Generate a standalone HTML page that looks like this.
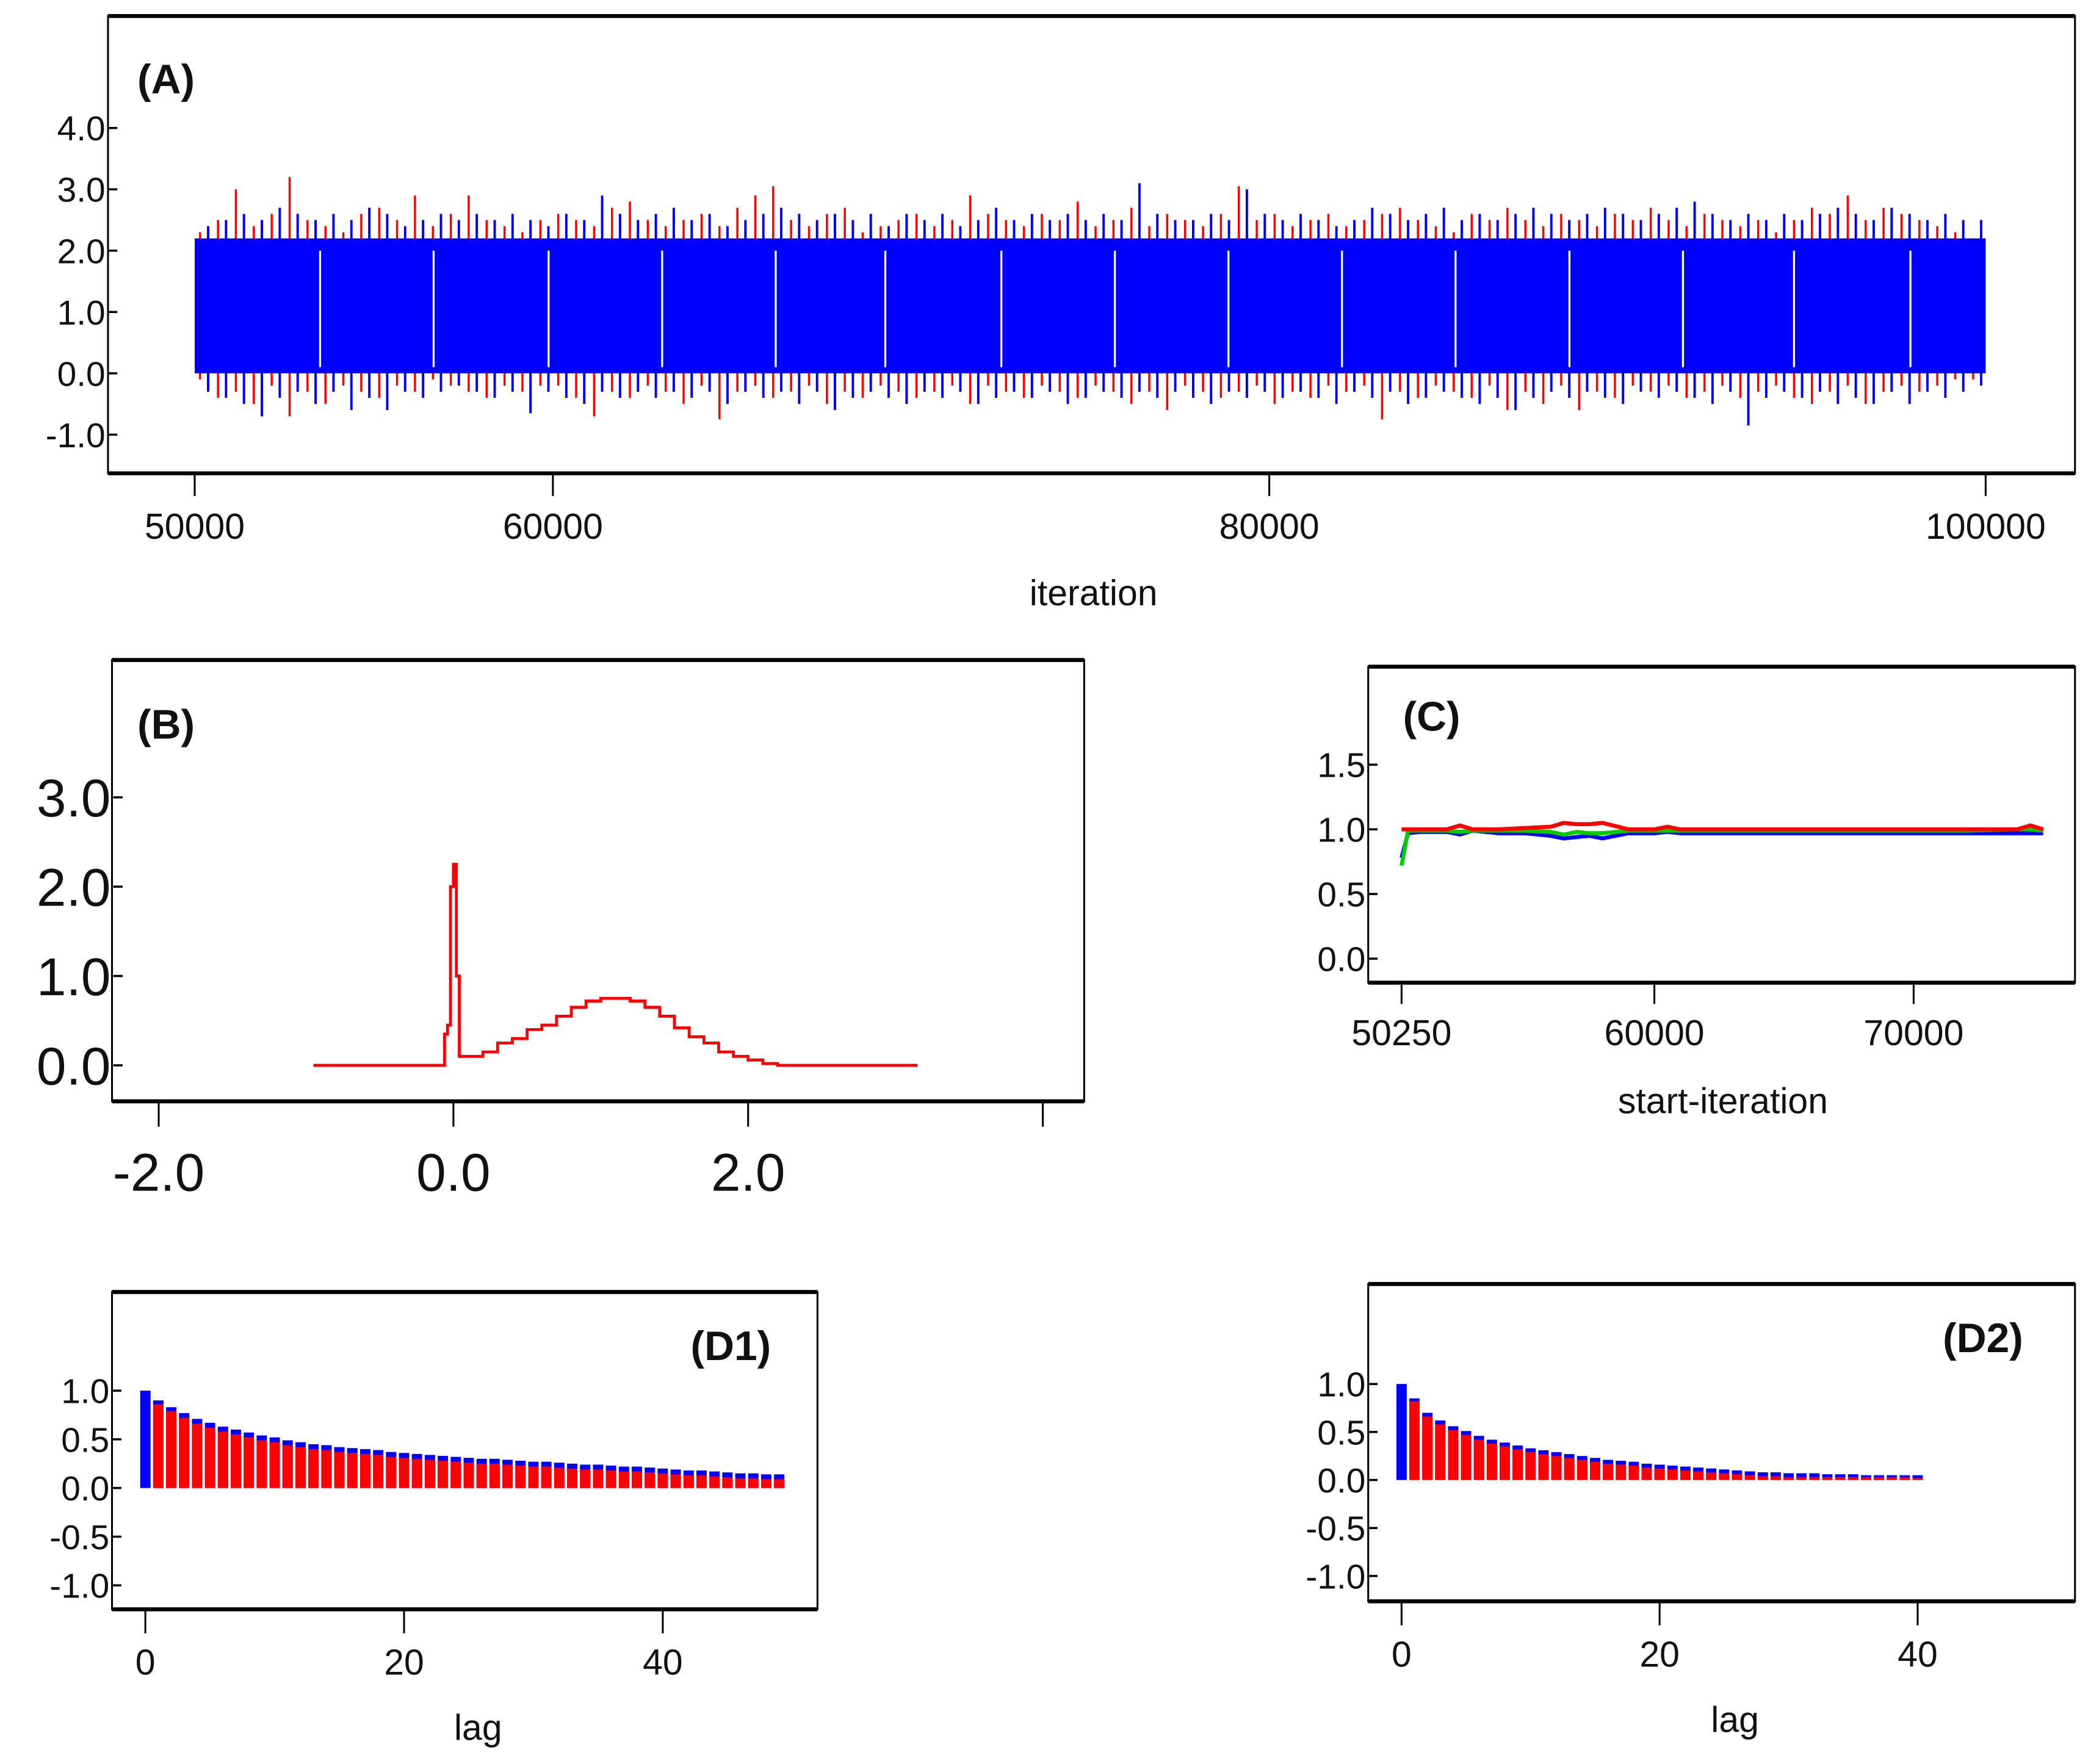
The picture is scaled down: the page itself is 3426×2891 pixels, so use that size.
<!DOCTYPE html>
<html><head><meta charset="utf-8"><style>
html,body{margin:0;padding:0;background:#fff;}
svg{display:block;}
text{font-family:"Liberation Sans",sans-serif;fill:#111;}
</style></head><body>
<svg id="fig" width="3426" height="2891" viewBox="0 0 1568 1323" preserveAspectRatio="none" xmlns="http://www.w3.org/2000/svg">
<g id="pA"></g>
<g id="pB"></g>
<g id="pC"></g>
<g id="pD1"></g>
<g id="pD2"></g>
</svg>
<script>
// ---------- Panel A data ----------
const traceCore = [0.0, 2.2];
const redHi = [2.3,2.5,3.0,2.4,2.6,3.2,2.5,2.4,2.3,2.6,2.7,2.5,2.9,2.4,2.6,2.9,2.5,2.4,2.3,2.5,2.6,2.5,2.4,2.7,2.8,2.5,2.4,2.5,2.6,2.4,2.7,2.9,3.05,2.5,2.4,2.6,2.7,2.3,2.4,2.5,2.6,2.4,2.5,2.9,2.6,2.5,2.4,2.6,2.5,2.8,2.4,2.5,2.7,2.4,2.6,2.5,2.4,2.6,3.05,2.5,2.6,2.4,2.5,2.6,2.4,2.5,2.6,2.7,2.5,2.4,2.3,2.6,2.5,2.7,2.5,2.4,2.6,2.5,2.4,2.6,2.5,2.7,2.5,2.4,2.6,2.5,2.4,2.5,2.3,2.5,2.7,2.6,2.9,2.5,2.7,2.6,2.5,2.4,2.3,2.2];
const redLo = [-0.1,-0.4,-0.3,-0.5,-0.2,-0.7,-0.3,-0.5,-0.2,-0.3,-0.4,-0.2,-0.3,-0.1,-0.2,-0.3,-0.4,-0.2,-0.3,-0.2,-0.2,-0.4,-0.7,-0.3,-0.4,-0.2,-0.3,-0.5,-0.2,-0.75,-0.3,-0.2,-0.4,-0.3,-0.2,-0.5,-0.3,-0.4,-0.2,-0.3,-0.4,-0.3,-0.2,-0.5,-0.2,-0.3,-0.4,-0.2,-0.3,-0.4,-0.2,-0.3,-0.5,-0.3,-0.6,-0.2,-0.3,-0.4,-0.3,-0.2,-0.5,-0.3,-0.4,-0.2,-0.3,-0.2,-0.75,-0.3,-0.4,-0.2,-0.3,-0.4,-0.2,-0.6,-0.3,-0.5,-0.2,-0.6,-0.3,-0.4,-0.2,-0.3,-0.2,-0.4,-0.3,-0.2,-0.4,-0.3,-0.2,-0.4,-0.5,-0.3,-0.2,-0.5,-0.3,-0.2,-0.3,-0.2,-0.1,-0.1];
const blueHi = [2.4,2.5,2.6,2.5,2.7,2.6,2.5,2.6,2.5,2.7,2.6,2.4,2.5,2.6,2.5,2.6,2.5,2.6,2.5,2.4,2.6,2.5,2.9,2.6,2.5,2.6,2.7,2.5,2.6,2.4,2.5,2.6,2.7,2.6,2.5,2.6,2.5,2.6,2.4,2.6,2.5,2.6,2.4,2.5,2.7,2.5,2.6,2.5,2.6,2.5,2.6,2.5,3.1,2.6,2.5,2.5,2.6,2.5,3.0,2.6,2.5,2.6,2.5,2.4,2.5,2.7,2.6,2.5,2.6,2.7,2.5,2.6,2.5,2.6,2.7,2.6,2.5,2.6,2.7,2.6,2.5,2.6,2.7,2.8,2.6,2.5,2.6,2.5,2.6,2.5,2.6,2.7,2.6,2.5,2.7,2.6,2.5,2.6,2.5,2.5];
const blueLo = [-0.3,-0.4,-0.5,-0.7,-0.4,-0.3,-0.5,-0.3,-0.6,-0.4,-0.6,-0.3,-0.4,-0.3,-0.2,-0.3,-0.4,-0.3,-0.65,-0.3,-0.4,-0.5,-0.3,-0.4,-0.3,-0.4,-0.3,-0.4,-0.3,-0.5,-0.3,-0.4,-0.3,-0.5,-0.3,-0.6,-0.4,-0.3,-0.4,-0.5,-0.3,-0.4,-0.3,-0.5,-0.4,-0.3,-0.4,-0.3,-0.5,-0.4,-0.3,-0.4,-0.3,-0.4,-0.3,-0.4,-0.5,-0.3,-0.4,-0.3,-0.4,-0.3,-0.4,-0.5,-0.3,-0.4,-0.3,-0.5,-0.4,-0.3,-0.4,-0.5,-0.4,-0.6,-0.4,-0.3,-0.4,-0.3,-0.4,-0.5,-0.3,-0.4,-0.3,-0.4,-0.5,-0.3,-0.85,-0.4,-0.3,-0.4,-0.3,-0.5,-0.4,-0.5,-0.3,-0.5,-0.3,-0.4,-0.3,-0.2];
const traceGaps = [53500,56670,59880,63050,66220,69280,72520,75690,78860,82030,85200,88380,91550,94650,97900];
const aXTicks = [50000,60000,80000,100000];
const aYTicks = [4.0,3.0,2.0,1.0,0.0,-1.0];
// ---------- Panel B data ----------
const densX = [-0.95,-0.08,-0.06,-0.04,-0.02,0.0,0.02,0.04,0.1,0.2,0.3,0.4,0.5,0.6,0.7,0.8,0.9,1.0,1.1,1.2,1.3,1.4,1.5,1.6,1.7,1.8,1.9,2.0,2.1,2.2,3.15];
const densY = [0,0,0.35,0.45,2.0,2.25,1.0,0.1,0.1,0.15,0.25,0.3,0.4,0.45,0.55,0.65,0.72,0.75,0.75,0.72,0.65,0.55,0.42,0.32,0.25,0.15,0.1,0.06,0.02,0,0];
const bXTicks = [-2.0,0.0,2.0,4.0];
const bXLabels = ["-2.0","0.0","2.0",""];
const bYTicks = [3.0,2.0,1.0,0.0];
// ---------- Panel C data ----------
const cIter = [50250,50500,51000,52000,52500,53000,54000,55000,56000,56500,57000,57500,58000,59000,60000,60500,61000,62000,64000,65000,71500,72000,74000,74500,75000];
const cRed   = [1.0,1.0,1.0,1.0,1.03,1.0,1.0,1.01,1.02,1.05,1.04,1.04,1.05,1.0,1.0,1.02,1.0,1.0,1.0,1.0,1.0,1.0,1.0,1.03,1.0];
const cBlue  = [0.78,0.97,0.98,0.98,0.96,0.99,0.97,0.97,0.95,0.93,0.94,0.95,0.93,0.97,0.97,0.98,0.97,0.97,0.97,0.97,0.97,0.97,0.97,0.97,0.97];
const cGreen = [0.72,0.99,0.99,0.99,0.98,0.99,0.99,0.99,0.98,0.96,0.98,0.97,0.97,0.99,0.99,0.99,0.99,0.99,0.99,0.99,0.99,0.99,1.0,1.0,0.99];
const cXTicks = [50250,60000,70000];
const cYTicks = [1.5,1.0,0.5,0.0];
// ---------- Panel D data ----------
const d1Blue = [1.0,0.9,0.83,0.77,0.71,0.67,0.63,0.6,0.57,0.54,0.52,0.49,0.47,0.45,0.44,0.42,0.41,0.4,0.39,0.37,0.36,0.35,0.34,0.33,0.32,0.31,0.3,0.3,0.29,0.28,0.27,0.27,0.26,0.25,0.24,0.24,0.23,0.22,0.22,0.21,0.2,0.19,0.18,0.18,0.17,0.16,0.15,0.15,0.14,0.14];
const d1Red  = [1.0,0.86,0.79,0.72,0.66,0.62,0.58,0.55,0.52,0.49,0.47,0.44,0.42,0.4,0.39,0.37,0.36,0.35,0.34,0.32,0.31,0.3,0.29,0.28,0.27,0.26,0.25,0.25,0.24,0.23,0.22,0.22,0.21,0.2,0.19,0.19,0.18,0.17,0.17,0.16,0.15,0.14,0.13,0.13,0.12,0.11,0.1,0.1,0.09,0.09];
const d2Blue = [1.0,0.85,0.7,0.62,0.56,0.51,0.46,0.42,0.39,0.36,0.33,0.31,0.29,0.27,0.25,0.23,0.21,0.2,0.19,0.17,0.16,0.15,0.14,0.13,0.12,0.11,0.1,0.09,0.08,0.08,0.07,0.07,0.07,0.06,0.06,0.06,0.05,0.05,0.05,0.05,0.05];
const d2Red  = [1.0,0.82,0.66,0.58,0.52,0.47,0.42,0.38,0.35,0.32,0.29,0.27,0.25,0.23,0.21,0.19,0.17,0.16,0.15,0.13,0.12,0.11,0.1,0.09,0.08,0.07,0.06,0.05,0.04,0.04,0.03,0.03,0.03,0.03,0.03,0.03,0.03,0.03,0.03,0.03,0.02];
const dXTicks = [0,20,40];
const dYTicks = [1.0,0.5,0.0,-0.5,-1.0];

const NS="http://www.w3.org/2000/svg";
function mk(parent, tag, attrs){const e=document.createElementNS(NS,tag);for(const k in attrs)e.setAttribute(k,attrs[k]);parent.appendChild(e);return e;}
function lin(d0,d1,r0,r1){return v=>r0+(v-d0)/(d1-d0)*(r1-r0);}
function box(g,x0,y0,x1,y1){
  const b=mk(g,'g',{});
  
  
  mk(b,'rect',{x:x0,y:y0,width:x1-x0,height:y1-y0,fill:'none',stroke:'#000','stroke-width':1.4});
  mk(b,'line',{x1:x0,x2:x1,y1:y0,y2:y0,stroke:'#000','stroke-width':3});
  mk(b,'line',{x1:x0,x2:x1,y1:y1,y2:y1,stroke:'#000','stroke-width':3});
}
function txt(g,x,y,s,size,anchor,name,bold){
  const t=mk(g,'text',{x:x,y:y,'font-size':size,'text-anchor':anchor||'middle'});
  if(bold)t.setAttribute('font-weight','bold');
  t.textContent=s;
  
  
  return t;
}
function yAxis(g,ys,ticks,xBox,size,fmt){
  ticks.forEach(v=>{
    mk(g,'line',{x1:xBox-7,x2:xBox,y1:ys(v),y2:ys(v),stroke:'#000','stroke-width':1.6});
    txt(g,xBox-9,ys(v)+size*0.36,fmt(v),size,'end','y-tick-label');
  });
}
function xAxis(g,xs,ticks,labels,yBox,len,labelY,size){
  ticks.forEach((v,i)=>{
    mk(g,'line',{x1:xs(v),x2:xs(v),y1:yBox,y2:yBox+len,stroke:'#000','stroke-width':1.4});
    txt(g,xs(v),labelY,labels[i],size,'middle','x-tick-label');
  });
}

// ---------- Panel A ----------
(function(){
  const g=document.getElementById('pA');
  const xs=lin(50000,100000,146,1489), ys=lin(0,1,280,234);
  const n=redHi.length, step=50000/n;
  for(let i=0;i<n;i++){
    const it=50000+(i+0.3)*step;
    const r=mk(g,'line',{x1:xs(it),x2:xs(it),y1:ys(redLo[i]),y2:ys(redHi[i]),stroke:'#ff0000','stroke-width':1.6});
    
    
  }
  const band=mk(g,'rect',{x:xs(50000),y:ys(traceCore[1]),width:xs(100000)-xs(50000),height:ys(traceCore[0])-ys(traceCore[1]),fill:'#0000ff'});
  
  
  for(let i=0;i<n;i++){
    const it2=50000+(i+0.75)*step;
    const b=mk(g,'line',{x1:xs(it2),x2:xs(it2),y1:ys(blueLo[i]),y2:ys(blueHi[i]),stroke:'#0000ff','stroke-width':1.8});
    
    
  }
  traceGaps.forEach(it=>{
    const l=mk(g,'line',{x1:xs(it),x2:xs(it),y1:ys(2.0),y2:ys(0.1),stroke:'#fff','stroke-width':1.5});
    
    
  });
  box(g,81,12,1556,355);
  yAxis(g,ys,aYTicks,88,26,v=>v.toFixed(1));
  xAxis(g,xs,aXTicks,aXTicks.map(String),356,16,404,27);
  txt(g,820,454,'iteration',27,'middle','x-axis-title');
  txt(g,103,70,'(A)',31,'start','panel-label-a',true);
})();

// ---------- Panel B ----------
(function(){
  const g=document.getElementById('pB');
  const xs=lin(0,2,340,561), ys=lin(0,1,799,732);
  let d='';
  for(let i=0;i<densX.length;i++){
    const x=xs(densX[i]), y=ys(densY[i]);
    if(i===0) d+='M'+x+','+y; else d+='H'+x+'V'+y;
  }
  const p=mk(g,'path',{d:d,fill:'none',stroke:'#ff0000','stroke-width':2.2});
  
  
  box(g,84,495,813,826);
  yAxis(g,ys,bYTicks,92,40,v=>v.toFixed(1));
  xAxis(g,xs,bXTicks,bXLabels,827,18,893,40);
  txt(g,103,554,'(B)',31,'start','panel-label-b',true);
})();

// ---------- Panel C ----------
(function(){
  const g=document.getElementById('pC');
  const xs=lin(50250,70000,1051,1435), ys=lin(0,1,719,622);
  [['#0000ff',cBlue,'blue-shrink-factor-line'],['#00cc00',cGreen,'green-shrink-factor-line'],['#ff0000',cRed,'red-shrink-factor-line']].forEach(([c,arr,nm])=>{
    let d='';
    cIter.forEach((it,i)=>{d+=(i?'L':'M')+xs(it)+','+ys(arr[i]);});
    const p=mk(g,'path',{d:d,fill:'none',stroke:c,'stroke-width':3});
    
    
  });
  box(g,1026,500,1556,737);
  yAxis(g,ys,cYTicks,1033,26,v=>v.toFixed(1));
  xAxis(g,xs,cXTicks,cXTicks.map(String),738,15,784,27);
  txt(g,1292,835,'start-iteration',27,'middle','x-axis-title');
  txt(g,1052,548,'(C)',31,'start','panel-label-c',true);
})();

// ---------- Panel D ----------
function acf(id,blue,red,bx,label,labelX,labelY,lagY){
  const g=document.getElementById(id);
  const xs=lin(0,40,bx.x0t,bx.x40), ys=lin(0,1,bx.y0,bx.y1);
  const w=(xs(1)-xs(0))*0.8;
  blue.forEach((v,i)=>{
    const r=mk(g,'rect',{x:xs(i)-w/2,y:ys(v),width:w,height:ys(0)-ys(v),fill:'#0000ff'});
    
    
  });
  red.forEach((v,i)=>{
    if(i===0)return;
    const r=mk(g,'rect',{x:xs(i)-w/2,y:ys(v),width:w,height:ys(0)-ys(v),fill:'#ff0000'});
    
    
  });
  box(g,bx.l,bx.t,bx.r,bx.b);
  yAxis(g,ys,dYTicks,bx.l+7,26,v=>v.toFixed(1));
  xAxis(g,xs,dXTicks,dXTicks.map(String),bx.b+1,17,bx.b+49,27);
  txt(g,(bx.l+bx.r)/2+10,lagY,'lag',27,'middle','x-axis-title');
  txt(g,labelX,labelY,label,31,'middle','panel-label',true);
}
acf('pD1',d1Blue,d1Red,{x0t:109,x40:497,y0:1116,y1:1043,l:84,t:969,r:613,b:1207},'(D1)',548,1020,1305);
acf('pD2',d2Blue,d2Red,{x0t:1051,x40:1438,y0:1110,y1:1038,l:1026,t:963,r:1556,b:1201},'(D2)',1487,1014,1299);
</script>
</body></html>
